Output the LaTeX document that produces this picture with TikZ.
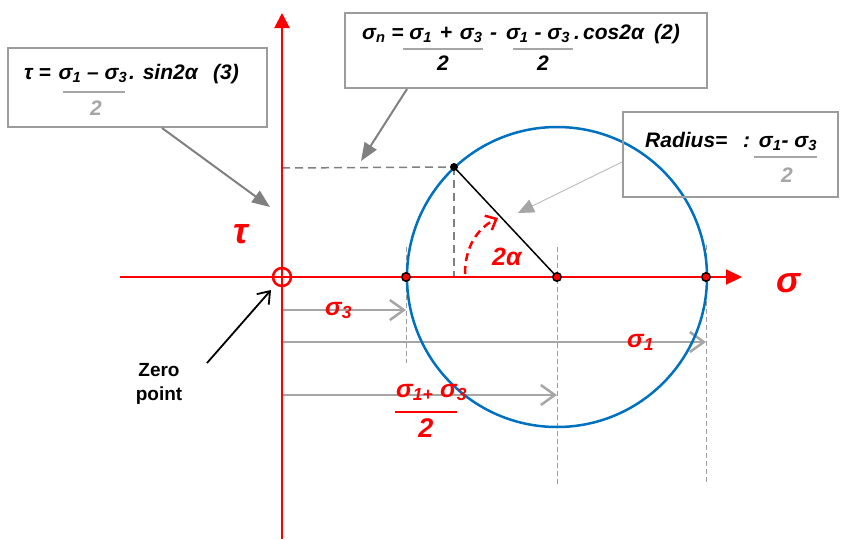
\documentclass[tikz,border=0pt]{standalone}
\usepackage{fontspec}
\setmainfont{Liberation Sans}
\usetikzlibrary{arrows.meta}
\definecolor{mblue}{HTML}{0070C0}
\definecolor{lgray}{HTML}{A6A6A6}
\definecolor{dgray}{HTML}{808080}
\definecolor{bgray}{HTML}{9C9C9C}
\definecolor{vlgray}{HTML}{BFBFBF}
\begin{document}
\begin{tikzpicture}[x=1pt,y=-1pt,
  fml/.style={font=\fontsize{21}{24}\selectfont\bfseries\itshape, inner sep=0pt, anchor=base west},
  redlbl/.style={text=red, font=\fontsize{25}{28}\selectfont\bfseries\itshape, inner sep=0pt, anchor=base west},
  axlbl/.style={text=red, font=\fontsize{36}{40}\selectfont\bfseries\itshape, inner sep=0pt, anchor=base west},
  box/.style={draw=bgray, line width=2pt, fill=none, inner sep=0pt},
  bar/.style={lgray, line width=1.5pt},
  callout/.style={dgray, line width=2pt, -{Triangle[length=18pt,width=14pt]}},
  result/.style={lgray, line width=2.5pt, -{Straight Barb[length=14pt,width=20pt]}},
  guide/.style={bgray, line width=1pt, dash pattern=on 5pt off 3pt},
  proj/.style={dgray, line width=1.5pt, dash pattern=on 8pt off 5pt},
  dot/.style={circle, fill=red, draw=black, line width=1.5pt, minimum size=8.5pt, inner sep=0pt},
  bdot/.style={circle, fill=black, minimum size=8pt, inner sep=0pt}]
\useasboundingbox (0,0) rectangle (844,539);

% key points
\coordinate (O) at (282,277);
\coordinate (C) at (557,277);
\coordinate (P) at (454,167);

% dashed guides
\draw[guide] (406,247) -- (406,363);
\draw[guide] (557,247) -- (557,487);
\draw[guide] (706,245) -- (706,485);
\draw[proj] (282,168) -- (P);
\draw[proj] (P) -- (454,277);

% result arrows
\coordinate (r3s) at (282,310); \coordinate (r3e) at (406,310);
\coordinate (r1s) at (282,342); \coordinate (r1e) at (706,342);
\coordinate (rms) at (282,395); \coordinate (rme) at (557,395);
\draw[result] (r3s) -- (r3e);
\draw[result] (r1s) -- (r1e);
\draw[result] (rms) -- (rme);

% Mohr circle
\draw[mblue, line width=2.5pt] (C) circle[radius=150pt];

% axes
\coordinate (xl) at (120,277); \coordinate (xr) at (742,277);
\coordinate (yb) at (282,539); \coordinate (yt) at (282,13);
\draw[red, line width=2pt, -{Triangle[length=15pt,width=15pt]}] (yb) -- (yt);
\draw[red, line width=2pt, -{Triangle[length=16pt,width=15pt]}] (xl) -- (xr);
\draw[red, line width=2.5pt] (O) circle[radius=9pt];

% radius line and angle
\draw[black, line width=1.5pt] (P) -- (C);
\coordinate (as) at (465,274); \coordinate (ae) at (498,218);
\draw[red, line width=2.5pt, dash pattern=on 8pt off 5pt, -{Straight Barb[length=9pt,width=16pt]}]
  (as) .. controls (465,246) and (478,228) .. (ae);

% points
\node[dot] (A) at (406,277) {};
\node[dot] (M) at (C) {};
\node[dot] (B) at (706,277) {};
\node[bdot] (Pd) at (P) {};

% labels
\node[axlbl] (tau) at (233,243) {τ};
\node[axlbl] (sig) at (776,292) {σ};
\node[redlbl] (l3) at (325,315) {σ\textsubscript{3}};
\node[redlbl] (l1) at (627,347) {σ\textsubscript{1}};
\node[redlbl] (lm) at (396,397) {σ\textsubscript{1+} σ\textsubscript{3}};
\draw[red, line width=2.5pt] (395,412) -- (457,412);
\node[redlbl, anchor=base, font=\fontsize{27}{30}\selectfont\bfseries\itshape] (l2) at (426,437) {2};
\node[redlbl] (la) at (492,265) {2α};

% zero point
\node[font=\fontsize{19}{24}\selectfont\bfseries, align=center, inner sep=0pt] (zp) at (159,384) {Zero\\point};
\coordinate (zs) at (207,363); \coordinate (ze) at (271,290);
\draw[black, line width=1.8pt, -{Straight Barb[length=11pt,width=16pt]}] (zs) -- (ze);

% box 1
\node[box, minimum width=259pt, minimum height=79pt] (b1) at (137.5,87.5) {};
\node[fml] (t1a) at (24,79) {τ =};
\node[fml, anchor=base] (t1b) at (93,79) {σ\textsubscript{1} – σ\textsubscript{3}};
\node[fml] (t1c) at (129,79) {. sin2α};
\node[fml] (t1d) at (213,79) {(3)};
\draw[bar] (63,92) -- (125,92);
\node[fml, text=lgray, anchor=base] (t1e) at (96,115) {2};

% box 2
\node[box, minimum width=362pt, minimum height=75pt] (b2) at (526,50.5) {};
\node[fml] (t2a) at (362,39) {σ\textsubscript{n} =};
\node[fml, anchor=base] (t2b) at (446,39) {σ\textsubscript{1}\hspace{2pt} + \hspace{2pt}σ\textsubscript{3}};
\node[fml] (t2c) at (490,39) {-};
\node[fml, anchor=base] (t2d) at (538,39) {σ\textsubscript{1} - σ\textsubscript{3}};
\node[fml] (t2e) at (574,39) {.};
\node[fml] (t2f) at (583,39) {cos2α};
\node[fml] (t2g) at (654,39) {(2)};
\draw[bar] (403,49) -- (483,49);
\draw[bar] (513,49) -- (573,49);
\node[fml, anchor=base] (t2h) at (443,70) {2};
\node[fml, anchor=base] (t2i) at (543,70) {2};

% box 3
\node[box, minimum width=215pt, minimum height=85pt] (b3) at (730.5,154.5) {};
\node[fml] (t3a) at (645,147) {Radius=};
\node[fml] (t3b) at (743,147) {:};
\node[fml, anchor=base] (t3c) at (788,147) {σ\textsubscript{1}- σ\textsubscript{3}};
\draw[bar] (754,157) -- (817,157);
\node[fml, text=lgray, anchor=base] (t3d) at (787,182) {2};

% callouts
\coordinate (c1) at (270,207);
\coordinate (c2) at (361,161);
\coordinate (c3) at (518,213);
\draw[callout] ([xshift=24.5pt]b1.south) -- (c1);
\draw[callout] ([xshift=-119pt]b2.south) -- (c2);
\draw[vlgray, line width=1pt, -{Triangle[length=16pt,width=14pt,color=lgray]}] ([yshift=-7.5pt]b3.west) -- (c3);
\end{tikzpicture}
\end{document}
